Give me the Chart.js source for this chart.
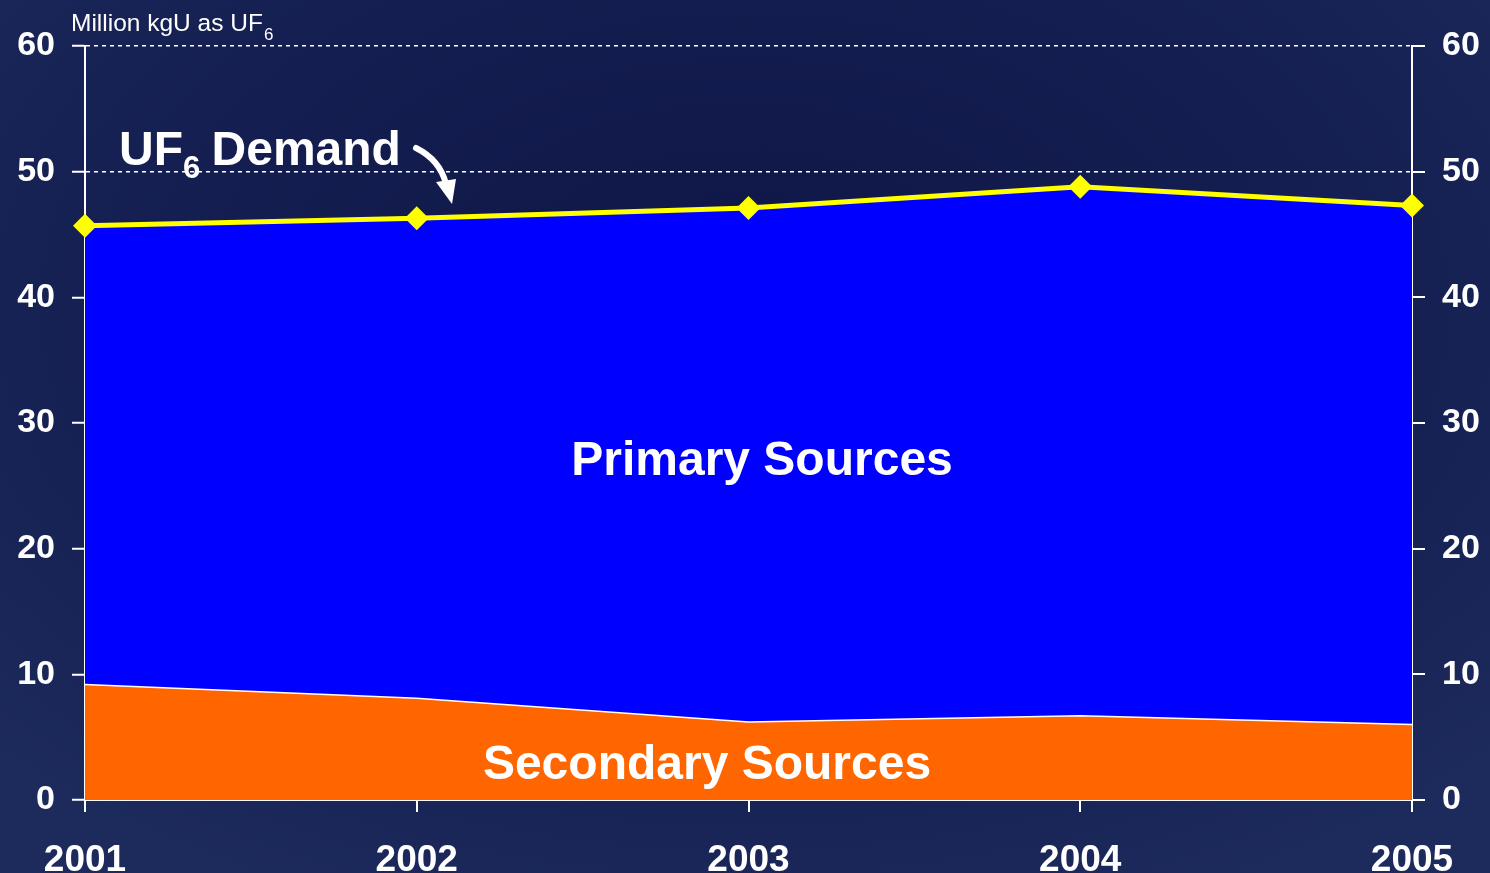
<!DOCTYPE html>
<html>
<head>
<meta charset="utf-8">
<script src="https://cdn.jsdelivr.net/npm/chart.js@4.4.0/dist/chart.umd.min.js"></script>
<style>
  html, body { margin: 0; padding: 0; }
  body {
    width: 1490px; height: 873px; overflow: hidden;
    background: radial-gradient(ellipse 70% 75% at 50% 35%, #0e1646 0%, #141e50 55%, #1d2a5c 100%);
  }
  canvas { display: block; }
</style>
</head>
<body>
<canvas id="c" width="1490" height="873"></canvas>
<script>
// UF6 供需图 - 数据
const years = ['2001', '2002', '2003', '2004', '2005'];
const demand = [45.7, 46.3, 47.1, 48.8, 47.3];      // UF6 Demand（黄线，蓝色填充至二次来源）
const secondary = [9.2, 8.1, 6.2, 6.7, 6.0];        // Secondary Sources
const yTicks = [0, 10, 20, 30, 40, 50, 60];

const WHITE = '#ffffff';
const FONT = 'Liberation Sans, Arial, sans-serif';

// 文字标注 + 箭头
const labelsPlugin = {
  id: 'labels',
  afterDatasetsDraw(chart) {
    const { ctx, chartArea: a } = chart;
    ctx.save();
    ctx.fillStyle = WHITE;
    ctx.textBaseline = 'alphabetic';

    // 单位
    ctx.font = '24.5px ' + FONT;
    ctx.textAlign = 'left';
    ctx.fillText('Million kgU as UF', a.left - 14, 31);
    let w = ctx.measureText('Million kgU as UF').width;
    ctx.font = '17px ' + FONT;
    ctx.fillText('6', a.left - 14 + w + 1, 40);

    // UF6 Demand
    ctx.font = 'bold 48px ' + FONT;
    ctx.fillText('UF', 119, 165);
    w = ctx.measureText('UF').width;
    ctx.font = 'bold 31px ' + FONT;
    ctx.fillText('6', 119 + w, 178);
    const w6 = ctx.measureText('6').width;
    ctx.font = 'bold 48px ' + FONT;
    ctx.fillText(' Demand', 119 + w + w6 - 2, 165);

    // 弯箭头
    ctx.strokeStyle = WHITE;
    ctx.lineWidth = 6;
    ctx.lineCap = 'round';
    ctx.beginPath();
    ctx.moveTo(416, 148);
    ctx.quadraticCurveTo(440, 160, 446, 184);
    ctx.stroke();
    ctx.beginPath();
    ctx.moveTo(452, 204);
    ctx.lineTo(436, 182);
    ctx.lineTo(456, 179);
    ctx.closePath();
    ctx.fillStyle = WHITE;
    ctx.fill();

    // 区域文字
    ctx.textAlign = 'center';
    ctx.textBaseline = 'middle';
    ctx.font = 'bold 48px ' + FONT;
    ctx.fillText('Primary Sources', 762, 462);
    ctx.fillText('Secondary Sources', 707, 766);
    ctx.restore();
  }
};

const yTickOpts = {
  color: WHITE,
  font: { family: FONT, size: 34, weight: 'bold' },
  callback: v => (yTicks.includes(v) ? String(v) : ''),
  stepSize: 10,
};

new Chart(document.getElementById('c'), {
  type: 'line',
  data: {
    labels: years,
    datasets: [
      {
        label: 'Secondary Sources',
        data: secondary,
        borderColor: WHITE,
        borderWidth: 1.5,
        backgroundColor: '#ff6600',
        fill: 'origin',
        pointRadius: 0,
        tension: 0,
      },
      {
        label: 'UF6 Demand',
        data: demand,
        borderColor: '#ffff00',
        borderWidth: 5,
        backgroundColor: '#0000ff',
        fill: '-1',
        pointStyle: 'rectRot',
        pointRadius: 12,
        pointBackgroundColor: '#ffff00',
        pointBorderColor: '#ffff00',
        pointBorderWidth: 0,
        tension: 0,
      },
    ]
  },
  options: {
    responsive: false,
    animation: false,
    layout: { padding: { top: 46, left: 0, right: 0, bottom: 0 } },
    plugins: {
      legend: { display: false },
      tooltip: { enabled: false },
    },
    scales: {
      x: {
        offset: false,
        grid: { drawOnChartArea: false, color: WHITE, tickLength: 12, lineWidth: 2 },
        border: { color: WHITE, width: 2 },
        ticks: {
          color: WHITE,
          padding: 27,
          maxRotation: 0,
          font: { family: FONT, size: 37, weight: 'bold' },
        },
        afterFit: s => { s.height = 73; },
      },
      y: {
        position: 'left',
        min: 0,
        max: 60,
        grid: { color: WHITE, lineWidth: 1.5, tickLength: 13, tickWidth: 2, tickBorderDash: [] },
        border: { color: WHITE, width: 2, dash: [4, 4] },
        ticks: Object.assign({ padding: 17 }, yTickOpts),
        afterFit: s => { s.width = 85; },
      },
      y2: {
        position: 'right',
        min: 0,
        max: 60,
        grid: { drawOnChartArea: false, color: WHITE, tickLength: 13, lineWidth: 2 },
        border: { color: WHITE, width: 2 },
        ticks: Object.assign({ padding: 17 }, yTickOpts),
        afterFit: s => { s.width = 78; },
      },
    }
  },
  plugins: [labelsPlugin]
});
</script>
</body>
</html>
